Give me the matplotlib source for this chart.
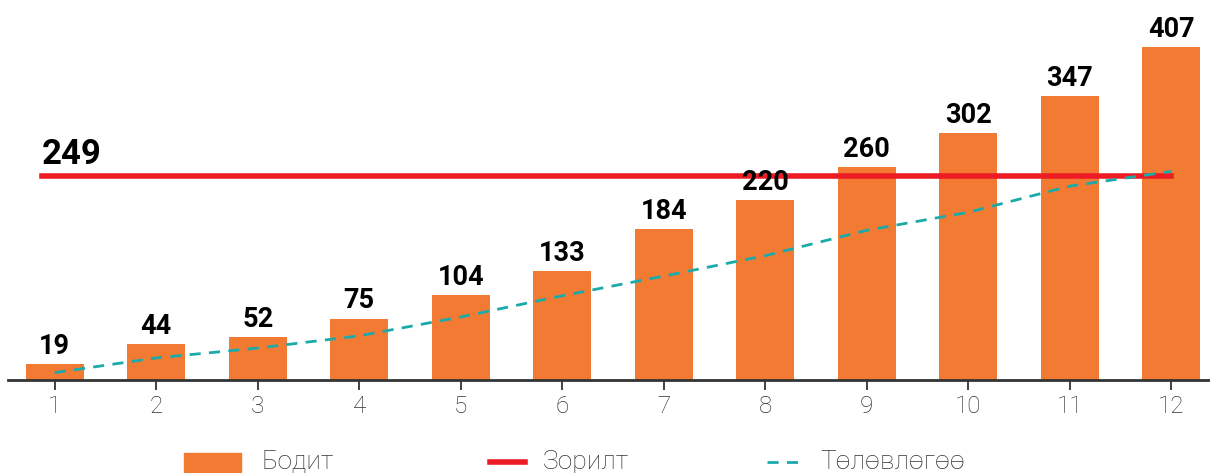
import matplotlib.pyplot as plt
import numpy as np

months = [1, 2, 3, 4, 5, 6, 7, 8, 9, 10, 11, 12]
actual = [19, 44, 52, 75, 104, 133, 184, 220, 260, 302, 347, 407]
plan = [9, 27, 39, 54, 77, 103, 127, 152, 183, 205, 237, 255]
target = 249
legend_labels = ['Бодит', 'Зорилт', 'Төлөвлөгөө']

orange = '#F37A32'
red = '#ED1C24'
teal = '#1BAAAA'

plt.rcParams['font.family'] = ['Roboto', 'DejaVu Sans']

fig = plt.figure(figsize=(12.1, 4.73), dpi=100)
ax = fig.add_axes([8 / 1210, 1 - 380 / 473, 1 - 8 / 1210, 360 / 473])

bars = ax.bar(months, actual, width=0.57, color=orange, zorder=2)
ax.plot([0.87, 12.0], [target, target], color=red, lw=4, zorder=3)
ax.plot(months, plan, color=teal, lw=2, ls=(0, (4, 3)), zorder=4)

for m, v in zip(months, actual):
    ax.annotate(str(v), (m, v), xytext=(0, 3), textcoords='offset points',
                ha='center', va='bottom', fontsize=19.5, fontweight='bold',
                color='black', zorder=5)
ax.text(0.87, target + 6, str(target), ha='left', va='bottom', fontsize=25,
        fontweight='bold', color='black')

ax.set_xlim(0.54, 12.38)
ax.set_ylim(0, 440)
for s in ['top', 'right', 'left']:
    ax.spines[s].set_visible(False)
ax.spines['bottom'].set_color('#333333')
ax.spines['bottom'].set_linewidth(2)
ax.set_yticks([])
ax.set_xticks(months)
ax.set_xticklabels([str(m) for m in months], fontsize=17.5, fontweight='light',
                   color='#333333')
ax.tick_params(axis='x', length=7, width=1.3, color='#333333', pad=4)

# legend drawn by hand at the bottom
fig.patches.append(plt.Rectangle((184 / 1210, 1 - 472 / 473), 57 / 1210, 19 / 473,
                                 transform=fig.transFigure, color=orange))
fig.lines.append(plt.Line2D([490 / 1210, 525 / 1210], [1 - 462 / 473] * 2,
                            transform=fig.transFigure, color=red, lw=4))
fig.lines.append(plt.Line2D([767 / 1210, 805 / 1210], [1 - 462 / 473] * 2,
                            transform=fig.transFigure, color=teal, lw=2,
                            ls=(0, (4, 3))))
for x, lab in zip([262, 543, 820], legend_labels):
    fig.text(x / 1210, 1 - 450 / 473, lab, ha='left', va='top', fontsize=19,
             fontweight='light', color='#333333')

fig.savefig('out.png', dpi=100)
